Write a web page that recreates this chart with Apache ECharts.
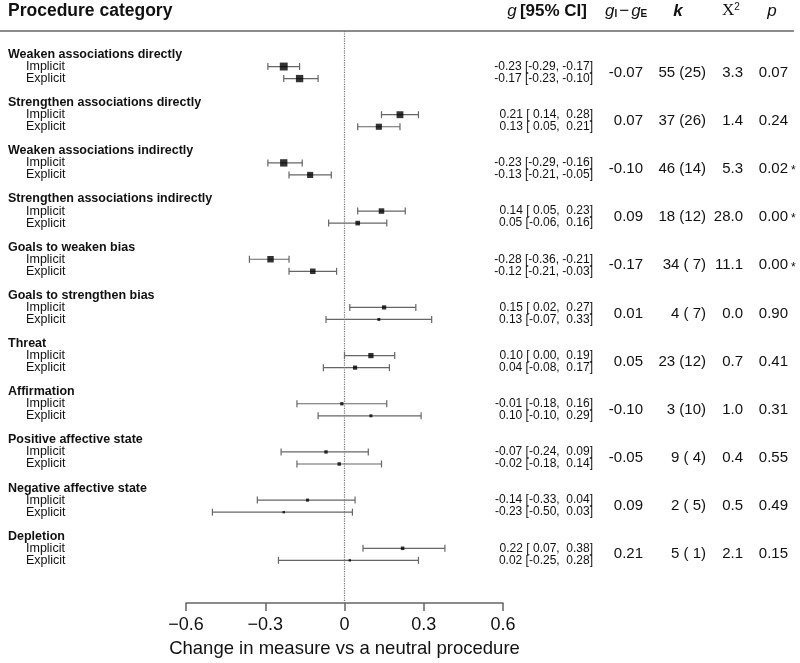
<!DOCTYPE html>
<html>
<head>
    <meta charset="utf-8">
    <title>Procedure category forest plot</title>
    <script src="https://cdn.jsdelivr.net/npm/echarts@6.0.0/dist/echarts.min.js"></script>
    <style type="text/css">
        html, body{
            margin: 0;
            padding: 0;
            width: 100%;
            height: 100%;
            background: #fff;
            overflow: hidden;
        }
    </style>
</head>
<body>
<div id="main" style="width: 100vw;height:100vh;"></div>

<script type="text/javascript">
    // data
    var groups = ['Weaken associations directly', 'Strengthen associations directly',
        'Weaken associations indirectly', 'Strengthen associations indirectly',
        'Goals to weaken bias', 'Goals to strengthen bias', 'Threat', 'Affirmation',
        'Positive affective state', 'Negative affective state', 'Depletion'];
    var measures = ['Implicit', 'Explicit'];

    var implicitG  = [-0.23, 0.21, -0.23, 0.14, -0.28, 0.15, 0.10, -0.01, -0.07, -0.14, 0.22];
    var implicitLo = [-0.29, 0.14, -0.29, 0.05, -0.36, 0.02, 0.00, -0.18, -0.24, -0.33, 0.07];
    var implicitHi = [-0.17, 0.28, -0.16, 0.23, -0.21, 0.27, 0.19, 0.16, 0.09, 0.04, 0.38];
    var explicitG  = [-0.17, 0.13, -0.13, 0.05, -0.12, 0.13, 0.04, 0.10, -0.02, -0.23, 0.02];
    var explicitLo = [-0.23, 0.05, -0.21, -0.06, -0.21, -0.07, -0.08, -0.10, -0.18, -0.50, -0.25];
    var explicitHi = [-0.10, 0.21, -0.05, 0.16, -0.03, 0.33, 0.17, 0.29, 0.14, 0.03, 0.28];

    var diffG     = [-0.07, 0.07, -0.10, 0.09, -0.17, 0.01, 0.05, -0.10, -0.05, 0.09, 0.21];
    var kImplicit = [55, 37, 46, 18, 34, 4, 23, 3, 9, 2, 5];
    var kExplicit = [25, 26, 14, 12, 7, 7, 12, 10, 4, 5, 1];
    var chiSq     = [3.3, 1.4, 5.3, 28.0, 11.1, 0.0, 0.7, 1.0, 0.4, 0.5, 2.1];
    var pValue    = [0.07, 0.24, 0.02, 0.00, 0.00, 0.90, 0.41, 0.31, 0.55, 0.49, 0.15];

    var xTicks = [-0.6, -0.3, 0, 0.3, 0.6];
    var xTitle = 'Change in measure vs a neutral procedure';

    var FONT = '"Liberation Sans", Arial, Helvetica, sans-serif';
    var ROWS = 4; // heading, implicit, explicit, gap

    function rowOf(g, r) { return g * ROWS + r; }
    function fmt(v) { return (v < 0 ? '' : ' ') + v.toFixed(2); }
    function ciText(g, lo, hi) { return fmt(g) + ' [' + fmt(lo) + ', ' + fmt(hi) + ']'; }

    // points + error bars
    var points = [];
    groups.forEach(function (name, i) {
        points.push([implicitG[i], rowOf(i, 1), implicitLo[i], implicitHi[i]]);
        points.push([explicitG[i], rowOf(i, 2), explicitLo[i], explicitHi[i]]);
    });

    // left labels
    var leftLabels = [];
    groups.forEach(function (name, i) {
        leftLabels.push({row: rowOf(i, 0), text: name, head: true});
        leftLabels.push({row: rowOf(i, 1), text: measures[0], head: false});
        leftLabels.push({row: rowOf(i, 2), text: measures[1], head: false});
    });

    // right table cells
    var cells = [];
    groups.forEach(function (name, i) {
        cells.push({row: rowOf(i, 1), col: 'ci', text: ciText(implicitG[i], implicitLo[i], implicitHi[i])});
        cells.push({row: rowOf(i, 2), col: 'ci', text: ciText(explicitG[i], explicitLo[i], explicitHi[i])});
        var mid = rowOf(i, 1.5);
        cells.push({row: mid, col: 'diff', text: diffG[i].toFixed(2)});
        cells.push({row: mid, col: 'k', text: kImplicit[i] + ' (' + (kExplicit[i] < 10 ? ' ' : '') + kExplicit[i] + ')'});
        cells.push({row: mid, col: 'chi', text: chiSq[i].toFixed(1)});
        cells.push({row: mid, col: 'p', text: pValue[i].toFixed(2)});
        if (pValue[i] < 0.05) cells.push({row: mid, col: 'star', text: '*'});
    });

    var colStyle = {
        ci:   {x: 593, size: 12, align: 'right', dy: 0},
        diff: {x: 643, size: 15, align: 'right', dy: 0},
        k:    {x: 706, size: 15, align: 'right', dy: 0},
        chi:  {x: 743, size: 15, align: 'right', dy: 0},
        p:    {x: 788, size: 15, align: 'right', dy: 0},
        star: {x: 791, size: 12, align: 'left', dy: 2}
    };

    var myChart = echarts.init(document.getElementById('main'));

    // layout is designed for 800x663; scale to whatever the viewport really is
    var sx = myChart.getWidth() / 800;
    var sy = myChart.getHeight() / 663;
    function X(v) { return v * sx; }
    function Y(v) { return v * sy; }

    myChart.setOption({
        animation: false,
        backgroundColor: '#fff',
        grid: {left: X(186), right: X(297), top: Y(31), bottom: Y(52)},
        xAxis: {
            type: 'value',
            min: xTicks[0],
            max: xTicks[xTicks.length - 1],
            interval: 0.3,
            axisLine: {show: true, onZero: false, lineStyle: {color: '#666', width: 1.5}},
            axisTick: {show: true, length: Y(8), lineStyle: {color: '#666', width: 1.5}},
            splitLine: {show: false},
            axisLabel: {
                fontSize: 18, color: '#111', fontFamily: FONT, margin: Y(13),
                formatter: function (v) {
                    return v === 0 ? '0' : v.toFixed(1).replace('-', '\u2212');
                }
            },
            name: xTitle,
            nameLocation: 'middle',
            nameGap: Y(30),
            nameTextStyle: {fontSize: 18.5, color: '#111', fontFamily: FONT}
        },
        yAxis: {
            type: 'value',
            inverse: true,
            min: -1.95,
            max: 45.55,
            show: false
        },
        graphic: [
            {type: 'line', shape: {x1: 0, y1: Y(31), x2: X(794), y2: Y(31)},
                style: {stroke: '#666', lineWidth: 1.5}},
            {type: 'text', x: X(8), y: Y(11),
                style: {text: 'Procedure category', font: 'bold 17.5px ' + FONT, fill: '#111',
                    align: 'left', verticalAlign: 'middle'}},
            {type: 'text', x: X(587), y: Y(11),
                style: {text: '{i|g} {b|[95% CI]}', align: 'right', verticalAlign: 'middle', fill: '#111',
                    rich: {i: {fontStyle: 'italic', fontSize: 17, fontFamily: FONT},
                        b: {fontWeight: 'bold', fontSize: 17, fontFamily: FONT}}}},
            {type: 'text', x: X(605), y: Y(11),
                style: {text: '{g|g}{s|I}{m|\u2212}{g|g}{s|E}', align: 'left', verticalAlign: 'middle', fill: '#111',
                    rich: {g: {fontStyle: 'italic', fontSize: 17, fontFamily: FONT},
                        m: {fontSize: 17, fontFamily: FONT, padding: [0, 2, 0, 2]},
                        s: {fontSize: 10, fontWeight: 'bold', fontFamily: FONT, verticalAlign: 'bottom'}}}},
            {type: 'text', x: X(678), y: Y(11),
                style: {text: 'k', font: 'italic bold 17px ' + FONT, fill: '#111',
                    align: 'center', verticalAlign: 'middle'}},
            {type: 'text', x: X(722), y: Y(11),
                style: {text: '{x|\u03A7}{s|2}', align: 'left', verticalAlign: 'middle', fill: '#111',
                    rich: {x: {fontSize: 17, fontFamily: '"Liberation Serif", "DejaVu Serif", serif'},
                        s: {fontSize: 10, fontFamily: FONT, verticalAlign: 'top'}}}},
            {type: 'text', x: X(772), y: Y(11),
                style: {text: 'p', font: 'italic 17px ' + FONT, fill: '#111',
                    align: 'center', verticalAlign: 'middle'}}
        ],
        series: [
            {
                // confidence intervals
                type: 'custom',
                data: points.map(function (d) { return [d[2], d[3], d[1]]; }),
                encode: {x: [0, 1], y: 2},
                z: 2,
                renderItem: function (params, api) {
                    var a = api.coord([api.value(0), api.value(2)]);
                    var b = api.coord([api.value(1), api.value(2)]);
                    var h = Y(3.5);
                    var st = {stroke: '#666', lineWidth: 1.2};
                    return {
                        type: 'group',
                        children: [
                            {type: 'line', shape: {x1: a[0], y1: a[1], x2: b[0], y2: b[1]}, style: st},
                            {type: 'line', shape: {x1: a[0], y1: a[1] - h, x2: a[0], y2: a[1] + h}, style: st},
                            {type: 'line', shape: {x1: b[0], y1: b[1] - h, x2: b[0], y2: b[1] + h}, style: st}
                        ]
                    };
                }
            },
            {
                // point estimates, box size by precision
                type: 'scatter',
                data: points,
                symbol: 'rect',
                symbolSize: function (d) { return 0.85 / (d[3] - d[2]) + 0.8; },
                itemStyle: {color: '#000'},
                z: 3,
                markLine: {
                    silent: true,
                    symbol: 'none',
                    label: {show: false},
                    lineStyle: {type: 'dotted', color: '#777', width: 1.2},
                    data: [{xAxis: 0}]
                }
            },
            {
                // left column labels
                type: 'custom',
                data: leftLabels.map(function (d) { return [0, d.row]; }),
                encode: {x: 0, y: 1},
                renderItem: function (params, api) {
                    var item = leftLabels[params.dataIndex];
                    var y = api.coord([0, api.value(1)])[1];
                    return {
                        type: 'text',
                        x: X(item.head ? 8 : 26),
                        y: y,
                        style: {
                            text: item.text,
                            font: (item.head ? 'bold ' : '') + '12.5px ' + FONT,
                            fill: '#111',
                            align: 'left',
                            verticalAlign: 'middle'
                        }
                    };
                }
            },
            {
                // right table
                type: 'custom',
                data: cells.map(function (d) { return [0, d.row]; }),
                encode: {x: 0, y: 1},
                renderItem: function (params, api) {
                    var item = cells[params.dataIndex];
                    var cs = colStyle[item.col];
                    var y = api.coord([0, api.value(1)])[1];
                    return {
                        type: 'text',
                        x: X(cs.x),
                        y: y + cs.dy,
                        style: {
                            text: item.text,
                            font: cs.size + 'px ' + FONT,
                            fill: '#111',
                            align: cs.align,
                            verticalAlign: 'middle'
                        }
                    };
                }
            }
        ]
    });
</script>

</body>
</html>
